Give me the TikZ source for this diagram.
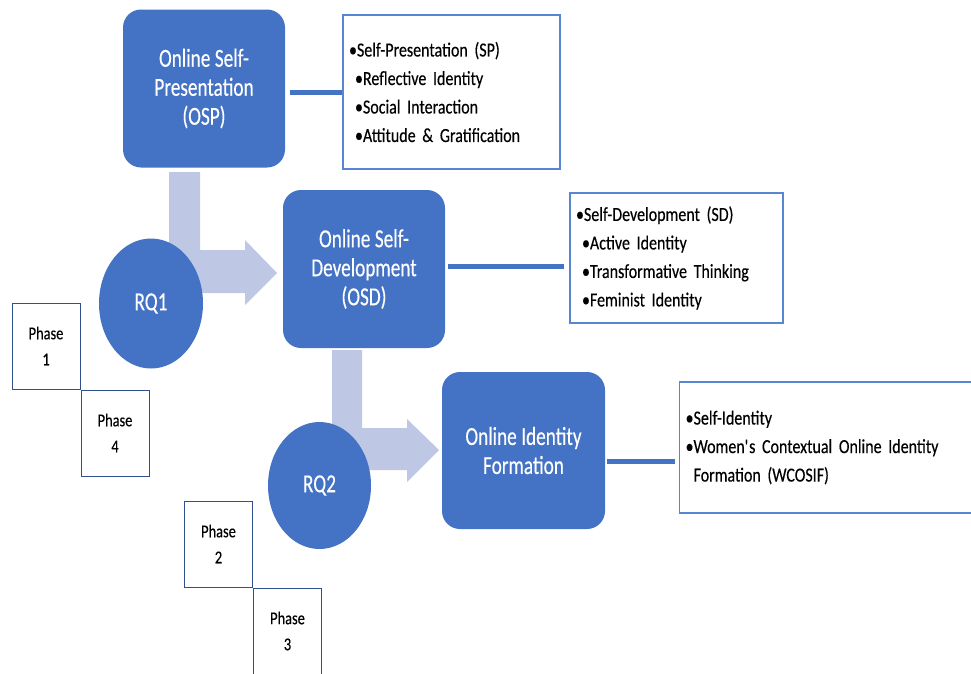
\documentclass[tikz,border=0pt]{standalone}
\usepackage{fontspec}
\setmainfont{Carlito}[FakeStretch=0.74, FakeBold=0.3]
\newfontfamily\listfont{Carlito}[FakeStretch=0.8, FakeBold=0.3]
\usetikzlibrary{positioning,shapes.geometric}

\definecolor{boxblue}{RGB}{68,114,196}
\definecolor{arrowblue}{RGB}{190,200,228}
\definecolor{listblue}{RGB}{88,134,210}
\definecolor{edgeblue}{RGB}{47,82,143}

\tikzset{
  topic/.style={fill=boxblue, rounded corners=18pt, text=white, align=center,
    font=\fontsize{26}{29}\selectfont\spaceskip 4.5pt\relax,
    minimum width=162pt, minimum height=158pt, inner sep=0pt},
  rq/.style={ellipse, fill=boxblue, text=white, font=\fontsize{26}{29}\selectfont,
    minimum width=104pt, minimum height=130pt, inner sep=0pt},
  items/.style={draw=listblue, line width=1.2pt, align=left,
    font=\listfont\fontsize{20}{28.5}\selectfont\spaceskip 3.6pt\relax,
    inner xsep=6pt, inner ysep=0pt},
  phase/.style={draw=edgeblue, line width=1pt, align=center,
    font=\listfont\fontsize{18}{26}\selectfont,
    minimum width=68pt, minimum height=86pt, inner sep=0pt},
  link/.style={boxblue, line width=5pt},
  bigarrow/.style={fill=arrowblue}
}

\begin{document}
\begin{tikzpicture}[x=1pt,y=-1pt]
\useasboundingbox (0,0) rectangle (971,673);

\fill[bigarrow] (169,172) -- (200,172) -- (200,250) -- (245,250) -- (245,240) -- (277,273)
  -- (245,305) -- (245,293) -- (169,293) -- cycle;
\fill[bigarrow] (332,350) -- (362,350) -- (362,428) -- (407,428) -- (407,419) -- (439,450)
  -- (407,482) -- (407,470) -- (332,470) -- cycle;

\node[topic] (osp) at (204,88.5) {Online Self-\\Presentation\\(OSP)};
\node[topic] (osd) at (364,269) {Online Self-\\Development\\(OSD)};
\node[topic, minimum width=163pt, minimum height=157pt] (oif) at (523.5,450.5) {Online Identity\\Formation};

\node[rq] (rq1) at (151,303.5) {RQ1};
\node[rq, minimum width=103pt, minimum height=127pt] (rq2) at (319.5,485.5) {RQ2};

\node[items, text width=205pt, minimum height=154pt] (sp) at (451.5,92)
  {\textbullet Self-Presentation (SP)\\
   \hspace*{6pt}\textbullet Reflective Identity\\
   \hspace*{6pt}\textbullet Social Interaction\\
   \hspace*{6pt}\textbullet Attitude \& Gratification};
\node[items, text width=201pt, minimum height=130pt] (sd) at (676.5,258)
  {\textbullet Self-Development (SD)\\
   \hspace*{6pt}\textbullet Active Identity\\
   \hspace*{6pt}\textbullet Transformative Thinking\\
   \hspace*{6pt}\textbullet Feminist Identity};
\node[items, text width=284pt, minimum height=131pt, anchor=west] (wcosif) at (679,447.5)
  {\textbullet Self-Identity\\
   \textbullet Women\textquotesingle s Contextual Online Identity\\
   \hspace*{8pt}Formation (WCOSIF)};

\draw[link, shorten <=5pt] ([yshift=-3.5pt]osp.east) -- ([yshift=-3.5pt]osp.east -| sp.west);
\draw[link, shorten <=3pt, shorten >=5pt] ([yshift=3pt]osd.east) -- ([yshift=3pt]osd.east -| sd.west);
\draw[link, shorten <=2pt, shorten >=4pt] ([yshift=-10.5pt]oif.east) -- ([yshift=-10.5pt]oif.east -| wcosif.west);

\node[phase] (ph1) at (46,346) {Phase\\1};
\node[phase, below right=0pt of ph1] (ph4) {Phase\\4};
\node[phase] (ph2) at (218.5,544) {Phase\\2};
\node[phase, below right=0pt of ph2] (ph3) {Phase\\3};

\end{tikzpicture}
\end{document}
